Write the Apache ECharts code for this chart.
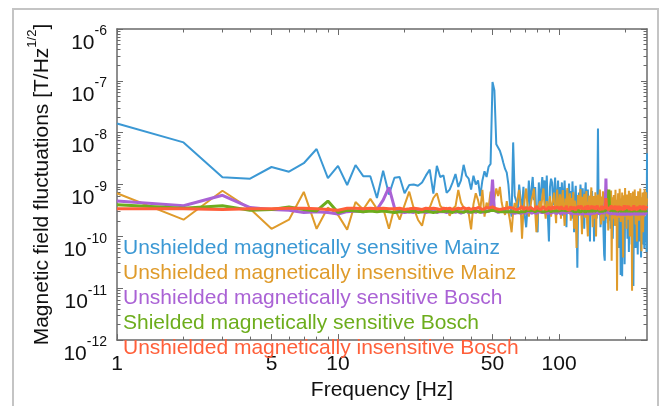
<!DOCTYPE html>
<html>
<head>
<meta charset="utf-8">
<script src="https://cdn.jsdelivr.net/npm/echarts@6/dist/echarts.min.js"></script>
<style>
    html, body { margin: 0; padding: 0; background: #fff; }
    #chart { width: 663px; height: 406px; }
</style>
</head>
<body>
<div id="chart"></div>
<script>
// amplitude spectral densities, unit = 1e-10 T/Hz^1/2, one value per 1 Hz bin from 1 Hz
var unitExp = -10;
var freqStart = 1;

var unshieldedSensMainz = [
    151, 65, 13.8, 13, 21.8, 17.7, 25.8, 48.5, 13.3, 22.9,
    9.8, 23.8, 14.5, 14.5, 5.5, 18.5, 6.4, 13.5, 14, 6.8,
    9.8, 10, 9.5, 11, 15, 19.4, 6.7, 23, 14, 15,
    6.9, 8, 11, 16, 9, 12, 24, 14.8, 13, 8,
    14.8, 10, 12, 6, 12, 18, 14, 22, 25, 950,
    650, 60, 55, 45, 35, 26, 20, 17, 10, 4,
    2.4, 65, 6, 4.8, 3, 10, 5, 3.6, 9, 2.5,
    1.5, 3.6, 12, 3.6, 8, 14, 5, 9, 2.2, 1.2,
    11, 3.6, 8, 14, 6, 12, 4, 15, 2.5, 0.8,
    9, 13, 11, 4, 7, 13.6, 3, 6, 12, 3,
    9.0, 4.0, 11, 2.5, 6.5, 12, 3.5, 1.5, 8.0, 5.0,
    10.5, 3.0, 7.5, 2.2, 11.5, 4.5, 1.2, 6.0, 9.5, 2.8,
    0.25, 4.0, 7.0, 3.2, 10, 5.5, 2.0, 8.5, 3.6, 1.4,
    6.5, 11, 3.0, 5.0, 8.0, 2.4, 4.5, 0.8, 6.0, 3.4,
    7.5, 2.5, 5.5, 0.8, 4.0, 3.0, 6.0, 2.2, 5.0, 120,
    4.5, 2.8, 6.0, 1.5, 3.6, 5.0, 2.6, 4.2, 1.1, 0.44,
    0.34, 3.5, 5.5, 2.2, 4.5, 1.8, 6.5, 3.0, 2.0, 4.8,
    1.4, 3.8, 5.2, 2.5, 0.9, 4.0, 6.0, 2.0, 3.3, 1.6,
    4.4, 2.7, 5.0, 1.2, 3.6, 0.6, 4.8, 2.4, 3.0, 0.18,
    2.8, 4.6, 0.17, 3.4, 1.8, 5.2, 2.2, 0.29, 3.8, 2.6,
    1.5, 4.2, 3.0, 0.9, 5.0, 2.4, 0.5, 3.6, 2.0, 4.4,
    1.3, 3.2, 0.7, 2.8, 4.6, 1.6, 0.11, 3.0, 2.2, 1.0,
    3.6, 0.6, 2.6, 4.0, 1.4, 2.0, 0.45, 3.2, 1.8, 2.9,
    0.8, 2.4, 3.8, 1.2, 0.39, 2.6, 1.5, 3.4, 0.7, 2.2,
    1.0, 3.0, 0.6, 1.8, 2.5, 0.8, 1.4, 2.0, 0.5, 40
];

var unshieldedInsensMainz = [
    6.8, 2.1, 7.6, 3.4, 1.4, 2.1, 7.2, 1.4, 3.6, 2.6,
    1.35, 4.6, 3.3, 5.3, 3.4, 3.5, 1.4, 3.6, 2.1, 4.0,
    7.3, 3.5, 2.1, 1.6, 3.4, 3.6, 5.5, 6.8, 3.9, 3.3,
    3.6, 2.5, 3.4, 3.8, 7.9, 4.5, 3.6, 3.0, 2.8, 1.37,
    4.2, 6.8, 5.0, 3.2, 7.9, 2.4, 4.5, 3.6, 7.3, 3.4,
    5.5, 8.4, 6.0, 9.0, 4.5, 3.2, 2.6, 4.8, 3.0, 2.0,
    1.2, 3.0, 4.4, 3.6, 5.5, 7.9, 4.0, 0.9, 3.3, 5.5,
    8.4, 3.8, 2.4, 3.5, 5.0, 6.2, 8.4, 3.0, 1.2, 2.6,
    4.0, 4.8, 3.4, 5.8, 8.4, 3.6, 2.2, 4.8, 2.9, 3.7,
    6.0, 2.4, 4.1, 5.2, 7.0, 3.3, 1.8, 8.0, 4.4, 3.0,
    6.5, 2.2, 4.6, 7.8, 3.1, 1.6, 5.4, 3.8, 8.6, 2.7,
    4.2, 6.8, 2.0, 5.5, 3.4, 7.2, 1.4, 4.9, 2.8, 0.6,
    3.6, 6.3, 2.5, 4.4, 8.2, 3.0, 1.1, 5.8, 3.7, 6.6,
    2.3, 4.9, 7.5, 1.8, 1.0, 4.2, 6.1, 2.9, 5.3, 8.8,
    3.4, 1.5, 6.0, 4.0, 2.2, 7.1, 1.0, 3.9, 5.6, 6.4,
    2.6, 4.8, 8.0, 3.2, 1.7, 5.9, 3.5, 7.4, 2.0, 4.6,
    6.9, 3.1, 5.2, 2.4, 8.1, 3.7, 1.3, 5.0, 6.6, 2.9,
    4.4, 7.7, 0.34, 3.6, 5.7, 2.2, 6.3, 4.1, 1.6, 7.9,
    3.3, 5.1, 0.09, 2.7, 6.8, 4.0, 2.3, 8.3, 3.5, 1.9,
    5.4, 3.0, 7.0, 2.6, 0.39, 4.7, 6.2, 3.1, 8.6, 2.4,
    4.5, 1.4, 6.4, 3.6, 5.6, 2.1, 7.6, 3.8, 1.0, 5.0,
    6.9, 2.8, 4.2, 0.09, 3.3, 7.3, 2.5, 5.3, 4.0, 8.0,
    3.0, 1.7, 6.0, 3.9, 0.8, 5.5, 2.6, 7.4, 4.3, 2.0,
    6.1, 3.4, 8.4, 2.8, 4.8, 0.52, 5.7, 3.2, 7.0, 1.2,
    4.6, 6.5, 2.4, 8.2, 3.6, 5.0, 2.9, 7.1, 4.0, 5.4
];

var unshieldedSensBosch = [
    4.8, 3.9, 6.2, 3.6, 3.3, 3.2, 2.9, 3.0, 2.9, 2.7,
    3.0, 3.1, 3.0, 3.2, 3.3, 5.0, 8.8, 3.6, 3.0, 2.9,
    3.0, 2.9, 3.1, 3.0, 2.9, 3.0, 3.1, 2.9, 3.0, 3.0,
    2.9, 3.0, 3.1, 2.9, 3.0, 2.8, 3.0, 3.1, 2.9, 3.0,
    3.0, 2.9, 3.1, 3.0, 2.9, 3.0, 3.1, 3.0, 3.4, 12.5,
    3.2, 3.0, 2.9, 3.0, 3.1, 2.9, 3.0, 2.8, 3.0, 3.1,
    2.9, 3.0, 2.8, 3.0, 2.9, 3.1, 2.8, 3.0, 2.9, 3.0,
    2.8, 3.0, 3.1, 2.9, 2.8, 3.0, 2.9, 3.0, 2.8, 2.9,
    3.0, 2.8, 2.9, 3.1, 2.9, 2.8, 3.0, 2.9, 2.7, 3.0,
    2.9, 2.8, 3.0, 2.9, 2.8, 3.0, 2.7, 2.9, 3.0, 2.8,
    2.9, 2.7, 3.0, 2.8, 2.9, 2.8, 3.0, 2.7, 2.9, 2.8,
    2.9, 3.0, 2.7, 2.8, 2.9, 2.8, 3.0, 2.7, 2.8, 2.9,
    2.8, 2.7, 2.9, 3.0, 2.8, 2.7, 2.9, 2.8, 2.7, 3.0,
    2.8, 2.9, 2.7, 2.8, 3.0, 2.7, 2.8, 2.9, 2.7, 2.8,
    2.9, 2.8, 2.7, 3.0, 2.8, 2.7, 2.9, 2.8, 3.0, 3.1,
    2.8, 2.7, 2.9, 2.8, 2.7, 2.9, 2.8, 2.7, 2.9, 2.8,
    3.0, 4.5, 13, 4.0, 2.9, 2.8, 2.7, 2.9, 2.8, 2.7,
    2.9, 2.8, 2.7, 3.0, 2.8, 2.7, 2.9, 2.8, 2.6, 2.8,
    2.9, 2.7, 2.8, 2.6, 2.9, 2.8, 2.7, 2.9, 2.6, 2.8,
    2.7, 2.9, 2.8, 2.6, 2.8, 2.7, 2.9, 2.7, 2.8, 2.6,
    2.8, 2.9, 2.7, 2.8, 2.6, 2.9, 2.7, 2.8, 2.7, 2.9,
    2.6, 2.8, 2.7, 2.9, 2.8, 2.6, 2.8, 2.7, 2.9, 2.7,
    2.8, 2.6, 2.9, 2.7, 2.8, 2.7, 2.9, 2.6, 2.8, 2.7,
    2.9, 2.7, 2.8, 2.6, 2.8, 2.9, 2.7, 2.8, 2.6, 2.8,
    2.7, 2.9, 2.8, 2.6, 2.8, 2.7, 2.9, 2.7, 2.8, 2.8
];

var shieldedSensBosch = [
    4.1, 3.5, 3.9, 3.2, 3.3, 3.7, 3.3, 3.1, 4.8, 2.9,
    3.2, 3.1, 3.0, 3.1, 3.0, 3.1, 3.0, 2.9, 3.0, 3.1,
    3.0, 3.1, 2.9, 3.0, 3.1, 3.0, 2.9, 3.0, 3.1, 3.0,
    3.1, 3.0, 2.9, 3.1, 3.0, 3.0, 2.9, 3.1, 3.0, 2.9,
    3.0, 3.1, 3.0, 2.9, 3.1, 3.0, 3.0, 3.1, 3.0, 3.2,
    3.0, 3.1, 2.9, 3.0, 3.1, 3.0, 2.9, 3.0, 3.1, 3.0,
    3.1, 3.0, 3.2, 3.0, 3.1, 2.9, 3.1, 3.0, 3.2, 3.0,
    3.1, 3.2, 3.0, 3.1, 3.0, 3.2, 3.1, 3.0, 3.1, 3.2,
    3.0, 3.1, 3.2, 3.0, 3.1, 3.0, 3.2, 3.1, 3.0, 3.2,
    3.1, 3.0, 3.2, 3.1, 3.0, 3.1, 3.2, 3.0, 3.1, 3.2,
    3.0, 3.2, 3.1, 3.0, 3.2, 3.1, 3.0, 3.1, 3.3, 3.0,
    3.2, 3.1, 3.0, 3.2, 3.1, 3.3, 3.0, 3.1, 3.2, 3.0,
    3.1, 3.3, 3.0, 3.2, 3.1, 3.0, 3.2, 3.1, 3.3, 3.0,
    3.2, 3.1, 3.0, 3.3, 3.1, 3.2, 3.0, 3.1, 3.3, 3.2,
    3.0, 3.1, 3.2, 3.3, 3.0, 3.1, 3.2, 3.0, 3.3, 3.4,
    3.1, 3.2, 3.0, 3.1, 3.3, 3.2, 3.0, 3.1, 3.2, 3.3,
    3.0, 3.2, 3.4, 3.1, 3.0, 3.2, 4.5, 8.0, 3.5, 3.1,
    3.2, 3.0, 3.1, 3.3, 3.2, 3.0, 3.1, 3.3, 3.2, 3.0,
    3.1, 3.2, 3.3, 3.0, 3.2, 3.1, 3.0, 3.3, 3.2, 3.1,
    3.0, 3.2, 3.3, 3.1, 3.0, 3.2, 3.1, 3.3, 3.0, 3.2,
    3.1, 3.0, 3.3, 3.2, 3.1, 3.0, 3.2, 3.3, 3.1, 3.0,
    3.2, 3.1, 3.3, 3.0, 3.2, 3.1, 3.0, 3.2, 3.3, 3.1,
    3.0, 3.2, 3.1, 3.3, 3.0, 3.1, 3.2, 3.0, 3.3, 3.1,
    3.2, 3.0, 3.1, 3.3, 3.2, 3.0, 3.1, 3.2, 3.3, 3.0,
    3.1, 3.2, 3.0, 3.3, 3.1, 3.2, 3.0, 3.1, 3.2, 3.1
];

var unshieldedInsensBosch = [
    3.4, 3.4, 3.3, 3.4, 3.4, 3.5, 3.5, 3.4, 3.3, 3.2,
    3.5, 3.5, 3.4, 3.5, 3.4, 3.5, 3.4, 3.4, 3.5, 3.3,
    3.4, 3.5, 3.4, 3.3, 3.5, 3.4, 3.5, 3.4, 3.3, 3.5,
    3.4, 3.5, 3.3, 3.4, 3.5, 3.4, 3.6, 3.4, 3.5, 3.3,
    3.5, 3.4, 3.6, 3.5, 3.3, 3.4, 3.6, 3.5, 3.4, 3.7,
    3.5, 3.4, 3.6, 3.3, 3.5, 3.4, 3.7, 3.5, 3.3, 3.6,
    3.4, 3.5, 3.7, 3.3, 3.6, 3.4, 3.5, 3.8, 3.3, 3.5,
    3.6, 3.4, 3.3, 3.7, 3.5, 3.4, 3.6, 3.3, 3.8, 3.5,
    3.4, 3.6, 3.3, 3.5, 3.8, 3.4, 3.6, 3.3, 3.5, 3.7,
    3.4, 3.3, 3.6, 3.8, 3.4, 3.5, 3.3, 3.7, 3.4, 3.6,
    3.3, 3.8, 3.5, 3.4, 3.2, 3.7, 3.5, 3.9, 3.3, 3.6,
    3.4, 3.2, 3.8, 3.5, 3.3, 3.7, 3.4, 3.9, 3.2, 3.6,
    3.5, 3.3, 3.8, 3.4, 3.2, 3.9, 3.5, 3.3, 3.7, 3.4,
    3.2, 3.8, 3.5, 3.3, 4.0, 3.4, 3.2, 3.7, 3.5, 3.3,
    3.9, 3.4, 3.2, 3.6, 3.8, 3.3, 3.5, 3.2, 3.9, 4.2,
    3.4, 3.2, 3.7, 3.5, 3.3, 3.9, 3.2, 3.6, 3.4, 3.3,
    3.8, 3.5, 5.5, 3.6, 3.3, 3.9, 3.4, 3.2, 3.7, 3.5,
    3.3, 4.0, 3.4, 3.2, 3.6, 3.8, 3.3, 3.5, 3.2, 3.9,
    3.4, 3.3, 3.7, 3.5, 3.2, 3.9, 3.4, 3.3, 3.8, 3.5,
    3.2, 3.6, 3.9, 3.3, 3.5, 3.2, 4.0, 3.4, 3.3, 3.7,
    3.5, 3.2, 3.8, 3.4, 3.3, 3.9, 3.5, 3.2, 3.6, 3.4,
    3.3, 3.9, 3.5, 3.2, 3.7, 3.4, 3.3, 4.0, 3.5, 3.2,
    3.6, 3.4, 3.9, 3.3, 3.5, 3.2, 3.8, 3.4, 3.3, 3.7,
    3.5, 3.2, 3.9, 3.4, 3.3, 3.6, 3.8, 3.2, 3.5, 3.4,
    3.3, 3.9, 3.5, 3.2, 3.7, 3.4, 3.3, 3.8, 3.5, 3.6
];

var seriesNames = [
    'Unshielded magnetically sensitive Mainz',
    'Unshielded magnetically insensitive Mainz',
    'Unshielded magnetically sensitive Bosch',
    'Shielded magnetically sensitive Bosch',
    'Unshielded magnetically insensitive Bosch'
];
var seriesColors = ['#3b98d4', '#df9b2b', '#aa62d5', '#6dad1c', '#ff5f3a'];
var seriesWidths = [2, 2, 3, 3, 3];
var seriesValues = [unshieldedSensMainz, unshieldedInsensMainz, unshieldedSensBosch,
    shieldedSensBosch, unshieldedInsensBosch];

var xLabelTicks = [1, 5, 10, 50, 100];
var xMinorTicks = [2, 3, 4, 6, 7, 8, 9, 20, 30, 40, 60, 70, 80, 90, 200];
var yExponents = [-12, -11, -10, -9, -8, -7, -6];

var xMin = 1, xMax = 250;
var yMajorTicks = yExponents.map(function (e) { return Math.pow(10, e - unitExp); });
var yMin = yMajorTicks[0], yMax = yMajorTicks[yMajorTicks.length - 1];
var yMinorTicks = [];
for (var d = 0; d < yMajorTicks.length - 1; d++) {
    for (var k = 2; k <= 9; k++) {
        yMinorTicks.push(+(yMajorTicks[d] * k).toPrecision(3));
    }
}

var font = 'Liberation Sans, Arial, sans-serif';
var frameColor = '#6a6a6a';

function toPoints(vals) {
    var pts = [];
    for (var i = 0; i < vals.length; i++) {
        pts.push([freqStart + i, vals[i]]);
    }
    return pts;
}

function xAxisDef(pos, ticks, len, main) {
    return {
        type: 'log', logBase: 10, position: pos, min: xMin, max: xMax,
        name: main ? 'Frequency [Hz]' : '',
        nameLocation: 'middle', nameGap: 34,
        nameTextStyle: { fontFamily: font, fontSize: 21, color: '#111' },
        axisLine: { show: len > 5, onZero: false, lineStyle: { color: frameColor, width: 1.5 } },
        axisTick: { show: true, inside: true, length: len, customValues: ticks,
            lineStyle: { color: frameColor, width: 1 } },
        axisLabel: main ? { show: true, customValues: xLabelTicks, margin: 14,
            fontFamily: font, fontSize: 21, color: '#111' } : { show: false },
        splitLine: { show: false }, minorTick: { show: false }
    };
}

function yAxisDef(pos, ticks, len, main) {
    return {
        type: 'log', logBase: 10, position: pos, min: yMin, max: yMax,
        name: main ? '{a|Magnetic field fluctuations [T/Hz}{s|1/2}{a|]}' : '',
        nameLocation: 'middle', nameGap: 60,
        nameTextStyle: {
            fontFamily: font, color: '#111',
            rich: {
                a: { fontFamily: font, fontSize: 21, lineHeight: 27, color: '#111', verticalAlign: 'bottom' },
                s: { fontFamily: font, fontSize: 13, lineHeight: 13, color: '#111', verticalAlign: 'top' }
            }
        },
        axisLine: { show: len > 5, onZero: false, lineStyle: { color: frameColor, width: 1.5 } },
        axisTick: { show: true, inside: true, length: len, customValues: ticks,
            lineStyle: { color: frameColor, width: 1 } },
        axisLabel: main ? {
            show: true, customValues: yMajorTicks, margin: 10,
            padding: [20, 0, 0, 0],
            formatter: function (v) {
                var e = Math.round(Math.log10(v)) + unitExp;
                return '{b|10}{e|' + e + '}';
            },
            rich: {
                b: { fontFamily: font, fontSize: 21, lineHeight: 29, color: '#111', verticalAlign: 'bottom' },
                e: { fontFamily: font, fontSize: 14, lineHeight: 14, color: '#111', verticalAlign: 'top' }
            }
        } : { show: false },
        splitLine: { show: false }, minorTick: { show: false }
    };
}

var series = seriesValues.map(function (vals, i) {
    return {
        name: seriesNames[i],
        type: 'line',
        data: toPoints(vals),
        showSymbol: false,
        silent: true,
        lineStyle: { color: seriesColors[i], width: seriesWidths[i] },
        itemStyle: { color: seriesColors[i] },
        emphasis: { disabled: true }
    };
});

var myChart = echarts.init(document.getElementById('chart'), null, { renderer: 'canvas' });

var option = {
    animation: false,
    backgroundColor: '#fff',
    grid: { left: 117, right: 16, top: 29, bottom: 48, containLabel: false },
    legend: {
        orient: 'vertical', left: 118, top: 238, padding: 0,
        itemWidth: 0, itemHeight: 0, itemGap: 4,
        selectedMode: false,
        textStyle: { fontFamily: font, fontSize: 21, lineHeight: 21 },
        data: seriesNames.map(function (n, i) {
            return { name: n, icon: 'none', textStyle: { color: seriesColors[i] } };
        })
    },
    graphic: [{
        type: 'rect', silent: true,
        shape: { x: 13, y: 9, width: 645, height: 420 },
        style: { fill: 'none', stroke: '#c4c4c4', lineWidth: 2 }
    }],
    xAxis: [
        xAxisDef('bottom', xLabelTicks, 6, true),
        xAxisDef('bottom', xMinorTicks, 3.5, false),
        xAxisDef('top', xLabelTicks, 6, false),
        xAxisDef('top', xMinorTicks, 3.5, false)
    ],
    yAxis: [
        yAxisDef('left', yMajorTicks, 6, true),
        yAxisDef('left', yMinorTicks, 3.5, false),
        yAxisDef('right', yMajorTicks, 6, false),
        yAxisDef('right', yMinorTicks, 3.5, false)
    ],
    series: series
};

if (option && typeof option === 'object') {
    myChart.setOption(option, true);
}
</script>
</body>
</html>
